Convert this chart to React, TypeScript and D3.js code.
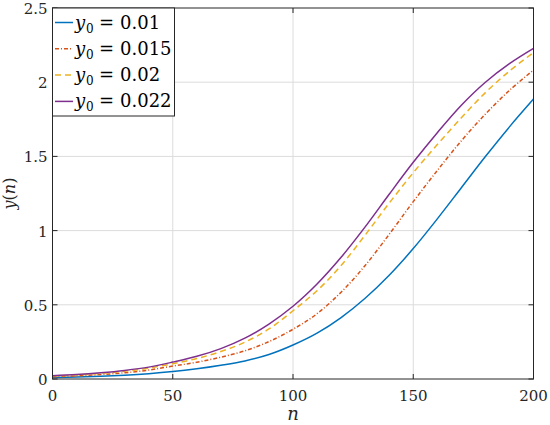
import * as d3 from 'd3'
import React from 'react'

// sample positions (n) and read-off values for each initial condition
const nValues = [0, 10, 20, 30, 40, 50, 60, 70, 80, 90, 100, 110, 120, 130, 140, 150, 160, 170, 180, 190, 200]

const yBlue = [0.01, 0.014, 0.019, 0.026, 0.036, 0.05, 0.069, 0.093, 0.122, 0.165, 0.229, 0.309, 0.414, 0.544, 0.699, 0.879, 1.079, 1.289, 1.499, 1.699, 1.886]
const yOrange = [0.015, 0.021, 0.03, 0.042, 0.06, 0.087, 0.113, 0.147, 0.19, 0.252, 0.335, 0.44, 0.585, 0.765, 0.975, 1.195, 1.405, 1.605, 1.785, 1.945, 2.082]
const yYellow = [0.02, 0.027, 0.038, 0.052, 0.073, 0.103, 0.138, 0.185, 0.248, 0.337, 0.46, 0.595, 0.765, 0.97, 1.185, 1.39, 1.58, 1.76, 1.93, 2.075, 2.2]
const yPurple = [0.022, 0.03, 0.042, 0.058, 0.08, 0.114, 0.153, 0.205, 0.275, 0.37, 0.49, 0.64, 0.82, 1.025, 1.245, 1.46, 1.66, 1.845, 2.0, 2.125, 2.228]

const legendLabels = ['0.01', '0.015', '0.02', '0.022']
const xTicks = [0, 50, 100, 150, 200]
const yTicks = [0, 0.5, 1, 1.5, 2, 2.5]

const series = [
  { label: legendLabels[0], values: yBlue, color: '#0072BD', dash: '' },
  { label: legendLabels[1], values: yOrange, color: '#D95319', dash: '4,2,1,2' },
  { label: legendLabels[2], values: yYellow, color: '#EDB120', dash: '6,4' },
  { label: legendLabels[3], values: yPurple, color: '#7E2F8E', dash: '' },
]

const margin = { top: 8, right: 16.5, bottom: 46, left: 52.5 }
const width = 550
const height = 425
const font = "'DejaVu Serif', 'Liberation Serif', serif"

const App = () => {
  const xScale = d3.scaleLinear().domain([0, 200]).range([margin.left, width - margin.right])
  const yScale = d3.scaleLinear().domain([0, 2.5]).range([height - margin.bottom, margin.top])

  const line = d3
    .line<number>()
    .x((_, i) => xScale(nValues[i]))
    .y((d) => yScale(d))
    .curve(d3.curveCatmullRom.alpha(0.5))

  const x0 = margin.left
  const x1 = width - margin.right
  const y0 = height - margin.bottom
  const y1 = margin.top
  const tick = 5

  return (
    <svg width={width} height={height} style={{ position: 'absolute', left: 0, top: 0, background: '#fff' }}>
      <rect x={0} y={0} width={width} height={height} fill="#fff" />

      {/* grid */}
      <g stroke="#dcdcdc" strokeWidth={1}>
        {xTicks.slice(1, -1).map((t) => (
          <line key={'gx' + t} x1={xScale(t)} x2={xScale(t)} y1={y0} y2={y1} />
        ))}
        {yTicks.slice(1, -1).map((t) => (
          <line key={'gy' + t} x1={x0} x2={x1} y1={yScale(t)} y2={yScale(t)} />
        ))}
      </g>

      {/* curves */}
      <g fill="none" strokeWidth={1.5}>
        {series.map((s) => (
          <path key={s.label} d={line(s.values) as string} stroke={s.color} strokeDasharray={s.dash || undefined} />
        ))}
      </g>

      {/* box and ticks */}
      <g stroke="#262626" strokeWidth={1}>
        <rect x={x0} y={y1} width={x1 - x0} height={y0 - y1} fill="none" />
        {xTicks.map((t) => (
          <g key={'tx' + t}>
            <line x1={xScale(t)} x2={xScale(t)} y1={y0} y2={y0 - tick} />
            <line x1={xScale(t)} x2={xScale(t)} y1={y1} y2={y1 + tick} />
          </g>
        ))}
        {yTicks.map((t) => (
          <g key={'ty' + t}>
            <line x1={x0} x2={x0 + tick} y1={yScale(t)} y2={yScale(t)} />
            <line x1={x1} x2={x1 - tick} y1={yScale(t)} y2={yScale(t)} />
          </g>
        ))}
      </g>

      {/* tick labels */}
      <g fill="#262626" style={{ fontFamily: font, fontSize: 15 }}>
        {xTicks.map((t) => (
          <text key={'lx' + t} x={xScale(t)} y={y0 + 22} textAnchor="middle">
            {t}
          </text>
        ))}
        {yTicks.map((t) => (
          <text key={'ly' + t} x={x0 - 5} y={yScale(t) + 6} textAnchor="end">
            {t}
          </text>
        ))}
      </g>

      {/* axis labels */}
      <text
        x={(x0 + x1) / 2}
        y={420}
        textAnchor="middle"
        fill="#262626"
        style={{ fontFamily: font, fontSize: 18, fontStyle: 'italic' }}
      >
        n
      </text>
      <text
        transform={`translate(15,${(y0 + y1) / 2}) rotate(-90)`}
        textAnchor="middle"
        fill="#262626"
        style={{ fontFamily: font, fontSize: 16 }}
      >
        <tspan fontStyle="italic">y</tspan>
        <tspan>(</tspan>
        <tspan fontStyle="italic">n</tspan>
        <tspan>)</tspan>
      </text>

      {/* legend */}
      <g style={{ fontFamily: font }}>
        <rect x={x0} y={y1} width={122} height={108} fill="#fff" stroke="#262626" strokeWidth={1} />
        {series.map((s, i) => {
          const by = 28.5 + i * 26.3
          return (
            <g key={'lg' + s.label}>
              <line
                x1={55}
                x2={73}
                y1={by - 6}
                y2={by - 6}
                stroke={s.color}
                strokeWidth={1.5}
                strokeDasharray={s.dash || undefined}
              />
              <text x={75} y={by} fill="#000" style={{ fontSize: 18, fontStyle: 'italic' }}>
                y
              </text>
              <text x={86} y={by + 4} fill="#000" style={{ fontSize: 12 }}>
                0
              </text>
              <text x={99} y={by} fill="#000" style={{ fontSize: 18 }}>
                =
              </text>
              <text x={120} y={by} fill="#000" style={{ fontSize: 18 }}>
                {s.label}
              </text>
            </g>
          )
        })}
      </g>
    </svg>
  )
}

export default App
